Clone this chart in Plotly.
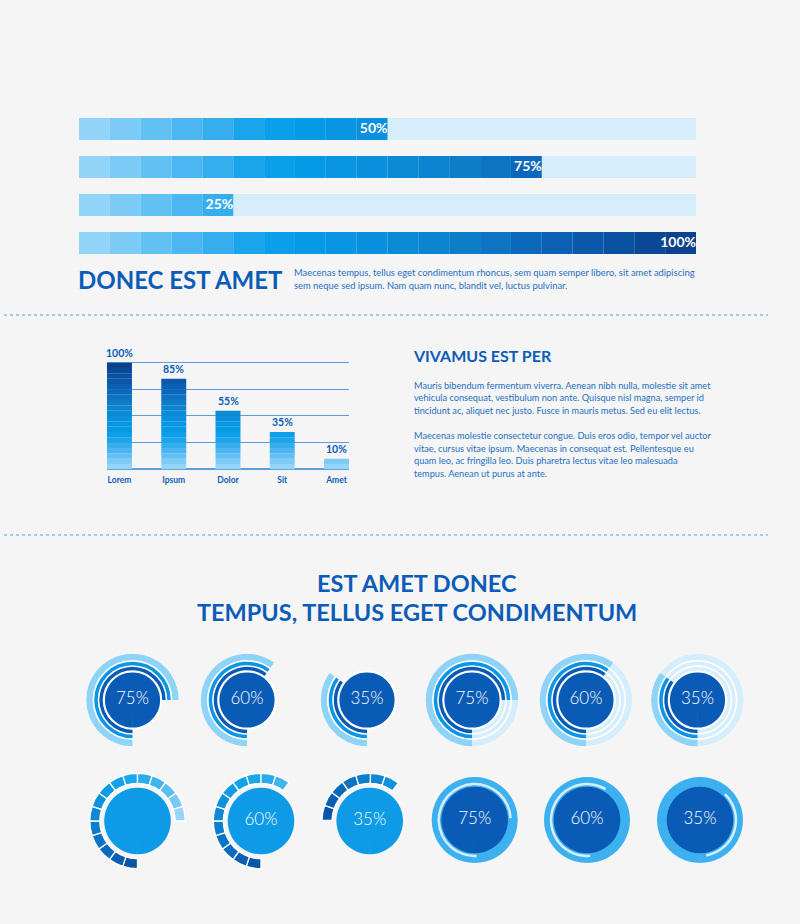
import plotly.graph_objects as go

W, H = 800, 924
FONT = "Lato"

# ---------------- data ----------------
hbar_labels = ["50%", "75%", "25%", "100%"]
hbar_values = [50, 75, 25, 100]
segment_size = 5  # one coloured block = 5 %

vbar_categories = ["Lorem", "Ipsum", "Dolor", "Sit", "Amet"]
vbar_values = [100, 85, 55, 35, 10]
vbar_labels = ["100%", "85%", "55%", "35%", "10%"]

ring_values_row1 = [75, 60, 35, 75, 60, 35]
ring_labels_row1 = ["75%", "60%", "35%", "75%", "60%", "35%"]
ring_values_row2 = [75, 60, 35, 75, 60, 35]
ring_labels_row2 = ["", "60%", "35%", "75%", "60%", "35%"]

title_1 = "DONEC EST AMET"
para_1 = ["Maecenas tempus, tellus eget condimentum rhoncus, sem quam semper libero, sit amet adipiscing",
          "sem neque sed ipsum. Nam quam nunc, blandit vel, luctus pulvinar."]
title_2 = "VIVAMUS EST PER"
para_2 = ["Mauris bibendum fermentum viverra. Aenean nibh nulla, molestie sit amet",
          "vehicula consequat, vestibulum non ante. Quisque nisl magna, semper id",
          "tincidunt ac, aliquet nec justo. Fusce in mauris metus. Sed eu elit lectus.",
          "",
          "Maecenas molestie consectetur congue. Duis eros odio, tempor vel auctor",
          "vitae, cursus vitae ipsum. Maecenas in consequat est. Pellentesque eu",
          "quam leo, ac fringilla leo. Duis pharetra lectus vitae leo malesuada",
          "tempus. Aenean ut purus at ante."]
title_3 = ["EST AMET DONEC", "TEMPUS, TELLUS EGET CONDIMENTUM"]

# ---------------- styles ----------------
BG = "#f5f5f5"
TITLE_C = "#0b5cb8"
TEXT_C = "#2470c4"
TRACK = "#d6eefc"
SEG_COLORS = ["#93d5f8", "#7ccbf6", "#63c0f3", "#4bb6f1", "#36aeee",
              "#19a4ec", "#0b9fea", "#069ae6", "#0895e1", "#0a90dc",
              "#0b8ad5", "#0c84cf", "#0d7dc8", "#0c74c2", "#0b68bb",
              "#0c60b4", "#0b58aa", "#0a50a0", "#0a4896", "#0a428c"]
RING_SEG_COLORS = ["#0a55a8", "#0b5fb3", "#0c6abd", "#0c74c6", "#0d7ece",
                   "#0e88d6", "#0e92dd", "#0f9ce4", "#12a3ea", "#1aa7ec",
                   "#2aacee", "#40b4f0", "#5cbff2", "#78c9f4", "#95d5f7"]
DARK = "#0a5bb5"
MED = "#0a96e4"
LIGHT = "#8fd3f8"
RINGS = [(29.8, 3.4, DARK), (34.8, 3.5, MED), (40.0, 6.2, LIGHT)]

row1_centers = [(132.5, 700), (247, 700), (367, 700), (472, 700), (586, 700), (697.5, 700)]
row2_centers = [(137.5, 821), (261, 821), (369.7, 821), (474.7, 820), (587, 820), (700, 820)]
row2_start = [180, 180, 271, 177, 175, 170]
row2_dir = [1, 1, 1, 1, 1, -1]


def fx(px):
    return px / W


def fy(py):
    return 1 - py / H


fig = go.Figure()

# ---------------- section 1: horizontal segmented bars ----------------
rows = list(range(len(hbar_values)))
fig.add_trace(go.Bar(orientation="h", y=rows, x=[100] * len(rows), base=[0] * len(rows),
                     width=0.58, marker=dict(color=TRACK, line=dict(width=0)),
                     xaxis="x", yaxis="y", hoverinfo="skip"))
ys, xs, bs, cs = [], [], [], []
for r, v in zip(rows, hbar_values):
    for k in range(int(v // segment_size)):
        ys.append(r); xs.append(segment_size); bs.append(k * segment_size); cs.append(SEG_COLORS[k])
fig.add_trace(go.Bar(orientation="h", y=ys, x=xs, base=bs, width=0.58,
                     marker=dict(color=cs, line=dict(width=0)),
                     xaxis="x", yaxis="y", hoverinfo="skip"))
fig.add_trace(go.Scatter(x=hbar_values, y=rows, mode="text", text=hbar_labels,
                         textposition="middle left", cliponaxis=False,
                         textfont=dict(family=FONT, size=14, color="white", weight="bold"),
                         xaxis="x", yaxis="y", hoverinfo="skip"))

# ---------------- section 2: vertical segmented bars ----------------
cols_idx = list(range(len(vbar_values)))
vx, vy, vb, vc = [], [], [], []
for i, v in zip(cols_idx, vbar_values):
    for k in range(int(v // segment_size)):
        vx.append(i); vy.append(segment_size); vb.append(k * segment_size); vc.append(SEG_COLORS[k])
fig.add_trace(go.Bar(x=vx, y=vy, base=vb, width=0.46,
                     marker=dict(color=vc, line=dict(width=0)),
                     xaxis="x2", yaxis="y2", hoverinfo="skip"))

# ---------------- section 3: ring gauges ----------------
polars = {}


def sub_name(n):
    return "polar" if n == 1 else f"polar{n}"


def add_polar(n, cx, cy, half=50):
    polars[sub_name(n)] = dict(
        domain=dict(x=[fx(cx - half), fx(cx + half)], y=[fy(cy + half), fy(cy - half)]),
        bgcolor="rgba(0,0,0,0)", barmode="overlay", hole=0,
        radialaxis=dict(range=[0, half], visible=False),
        angularaxis=dict(rotation=90, direction="clockwise", visible=False))


def sector(sub, base, thick, theta, width, color, lw=0):
    fig.add_trace(go.Barpolar(r=[thick], base=[base], theta=[theta], width=[width],
                              marker=dict(color=color, line=dict(width=lw, color="white")),
                              subplot=sub, hoverinfo="skip"))


def label(sub, text, size=17):
    fig.add_trace(go.Scatterpolar(r=[0], theta=[0], mode="text", text=[text],
                                  textfont=dict(family=FONT, size=size, color="white", weight=300),
                                  subplot=sub, hoverinfo="skip"))


FULL = 359.9
n = 0
# row 1
for i, (val, lab) in enumerate(zip(ring_values_row1, ring_labels_row1)):
    n += 1
    cx, cy = row1_centers[i]
    add_polar(n, cx, cy)
    sub = sub_name(n)
    span = val * 3.6
    start = 180
    mid = start + span / 2
    if i < 3:
        sector(sub, 27.5, 19.0, mid, span, "white")
        sector(sub, 27.5, 2.3, 0, FULL, "white")
    else:
        sector(sub, 0, 46.4, 0, FULL, "white")
        for base, th, col in RINGS:
            sector(sub, base, th, 0, FULL, TRACK)
    for base, th, col in RINGS:
        sector(sub, base, th, mid, span, col)
    sector(sub, 0, 27.6, 0, FULL, DARK)
    label(sub, lab)

# row 2
for i, (val, lab) in enumerate(zip(ring_values_row2, ring_labels_row2)):
    n += 1
    cx, cy = row2_centers[i]
    add_polar(n, cx, cy)
    sub = sub_name(n)
    span = val * 3.6
    start, d = row2_start[i], row2_dir[i]
    if i < 3:
        nseg = int(val // segment_size)
        step = 360 / (100 / segment_size)
        th = [start + d * (k + 0.5) * step for k in range(nseg)]
        fig.add_trace(go.Barpolar(r=[10] * nseg, base=[37.7] * nseg, theta=th, width=[step] * nseg,
                                  marker=dict(color=RING_SEG_COLORS[:nseg], line=dict(width=1.3, color="white")),
                                  subplot=sub, hoverinfo="skip"))
        sector(sub, 0, 33.3, 0, FULL, "#0d9ae6")
    else:
        sector(sub, 0, 43.0, 0, FULL, "#3db1f0")
        sector(sub, 0, 33.3, 0, FULL, DARK)
        sector(sub, 34.7, 2.5, start + d * span / 2, span, "#d6eefc")
    if lab:
        label(sub, lab)

# ---------------- text ----------------
ann = []
ann.append(dict(x=fx(76), y=fy(279), text=f"<b>{title_1}</b>", xanchor="left", yanchor="middle",
                font=dict(family=FONT, size=24, color=TITLE_C)))
for j, line in enumerate(para_1):
    ann.append(dict(x=fx(292), y=fy(272 + 13 * j), text=line, xanchor="left", yanchor="middle",
                    font=dict(family=FONT, size=9.4, color=TEXT_C)))
ann.append(dict(x=fx(411), y=fy(356), text=f"<b>{title_2}</b>", xanchor="left", yanchor="middle",
                font=dict(family=FONT, size=16, color=TITLE_C)))
for j, line in enumerate(para_2):
    if line:
        ann.append(dict(x=fx(412), y=fy(385 + 12.6 * j), text=line, xanchor="left", yanchor="middle",
                        font=dict(family=FONT, size=9.2, color=TEXT_C)))
for j, line in enumerate(title_3):
    ann.append(dict(x=fx(417), y=fy(583 + 29 * j), text=f"<b>{line}</b>", xanchor="center", yanchor="middle",
                    font=dict(family=FONT, size=23.5, color=TITLE_C)))
for a in ann:
    a.update(xref="paper", yref="paper", showarrow=False)
# value labels above the vertical bars (placed through the bar chart's axes)
for i, v, t in zip(cols_idx, vbar_values, vbar_labels):
    ann.append(dict(x=i, y=v, xref="x2", yref="y2", text=f"<b>{t}</b>", showarrow=False,
                    xanchor="center", yanchor="middle", yshift=10,
                    font=dict(family=FONT, size=10.5, color=TITLE_C)))

shapes = [dict(type="line", xref="paper", yref="paper", x0=fx(4), x1=fx(768), y0=fy(yy), y1=fy(yy),
               line=dict(color="#4ea6dd", width=1.2, dash="dot")) for yy in (315, 535)]

PX_PER_UNIT = (469.3 - 362.7) / 100
Y2_MAX = 104

fig.update_layout(
    width=W, height=H, margin=dict(l=0, r=0, t=0, b=0),
    paper_bgcolor=BG, plot_bgcolor="rgba(0,0,0,0)",
    barmode="overlay", showlegend=False,
    xaxis=dict(domain=[fx(79), fx(696)], range=[0, 100], visible=False, fixedrange=True),
    yaxis=dict(domain=[fy(262), fy(110)], range=[3.5, -0.5], visible=False, fixedrange=True),
    xaxis2=dict(domain=[fx(107), fx(349)], range=[-0.23, 4.23], anchor="y2",
                tickvals=cols_idx, ticktext=vbar_categories, showgrid=False, zeroline=False,
                showline=False, ticks="", ticklabelstandoff=4,
                tickfont=dict(family=FONT, size=8.5, color=TITLE_C, weight="bold")),
    yaxis2=dict(domain=[fy(469.3), fy(469.3 - Y2_MAX * PX_PER_UNIT)], range=[0, Y2_MAX], anchor="x2",
                tickvals=[25, 50, 75, 100], showticklabels=False, showgrid=True,
                gridcolor="#5c9fd8", gridwidth=1.3, zeroline=True, zerolinecolor="#5c9fd8",
                zerolinewidth=1.5, showline=False, ticks=""),
    annotations=ann, shapes=shapes,
    **polars,
)

fig.write_html("out.html", include_plotlyjs=True, config={"displayModeBar": False})
